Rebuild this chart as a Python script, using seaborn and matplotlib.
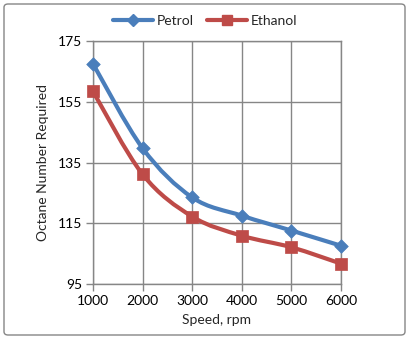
import numpy as np
import pandas as pd
import matplotlib
matplotlib.use("Agg")
import matplotlib.pyplot as plt
import seaborn as sns
from matplotlib.path import Path
from matplotlib.patches import PathPatch, FancyBboxPatch
from matplotlib.lines import Line2D

# data
speed = [1000, 2000, 3000, 4000, 5000, 6000]
petrol = [167.5, 139.7, 123.5, 117.5, 112.6, 107.6]
ethanol = [158.4, 131.1, 117.2, 110.9, 107.1, 101.7]

blue = "#4A7EBB"
red = "#BE4B48"
grey = "#868686"

sns.set_style("white")
plt.rcParams["font.family"] = ["Lato", "DejaVu Sans"]


def smooth_path(x, y):
    # Excel-style smoothed line: Catmull-Rom segments drawn as cubic Beziers
    pts = np.column_stack([x, y]).astype(float)
    verts = [pts[0]]
    codes = [Path.MOVETO]
    n = len(pts)
    for i in range(n - 1):
        p0 = pts[i - 1] if i > 0 else pts[i]
        p1, p2 = pts[i], pts[i + 1]
        p3 = pts[i + 2] if i + 2 < n else pts[i + 1]
        c1 = p1 + (p2 - p0) / 6.0
        c2 = p2 - (p3 - p1) / 6.0
        verts += [c1, c2, p2]
        codes += [Path.CURVE4] * 3
    return Path(verts, codes)


df = pd.DataFrame({"speed": speed, "Petrol": petrol, "Ethanol": ethanol})

fig = plt.figure(figsize=(4.1, 3.4), dpi=100)
ax = fig.add_axes([93 / 410, 1 - 284 / 340, (341 - 93) / 410, (284 - 41) / 340])

for col, c, mk, ms in [("Petrol", blue, "D", 48), ("Ethanol", red, "s", 75)]:
    ax.add_patch(PathPatch(smooth_path(df["speed"], df[col]), facecolor="none",
                           edgecolor=c, lw=3, clip_on=False, zorder=3,
                           capstyle="round", joinstyle="round"))
    sns.scatterplot(data=df, x="speed", y=col, ax=ax, color=c, marker=mk, s=ms,
                    edgecolor=c, linewidth=0.5, zorder=4, clip_on=False, legend=False)

ax.set_xlim(1000, 6000)
ax.set_ylim(95, 175)
ax.set_xticks(speed)
ax.set_yticks([95, 115, 135, 155, 175])
ax.grid(True, color=grey, lw=1)
for s in ax.spines.values():
    s.set_color(grey)
    s.set_linewidth(1)
ax.tick_params(axis="both", which="both", direction="out", length=5, width=1,
               color=grey, labelsize=10, labelcolor="black", pad=3,
               bottom=True, left=True)
ax.set_xlabel("Speed, rpm", fontsize=10, labelpad=5)
ax.set_ylabel("Octane Number Required", fontsize=10, labelpad=6)

handles = [Line2D([], [], color=blue, lw=3, marker="D", markersize=6),
           Line2D([], [], color=red, lw=3, marker="s", markersize=7)]
fig.legend(handles, ["Petrol", "Ethanol"], loc="center", bbox_to_anchor=(0.5, 1 - 21 / 340),
           ncol=2, frameon=False, fontsize=10, handlelength=2.9, columnspacing=1.0,
           handletextpad=0.25)

fig.patches.append(FancyBboxPatch((4 / 410, 5 / 340), 401 / 410, 331 / 340,
                                  boxstyle="round,pad=0,rounding_size=0.01",
                                  transform=fig.transFigure, facecolor="none",
                                  edgecolor=grey, lw=1))

fig.savefig("out.png", dpi=100)
